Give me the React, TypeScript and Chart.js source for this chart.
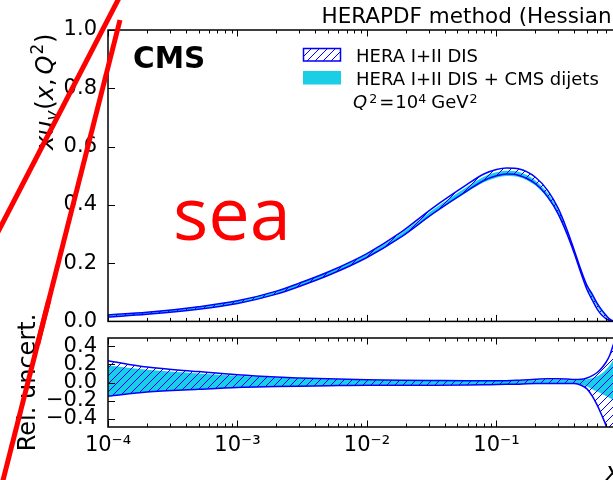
import React, { useEffect, useRef } from 'react';
import { Chart, registerables } from 'chart.js';

Chart.register(...registerables);
Chart.defaults.font.family = '"DejaVu Sans"';

// ---------------- data ----------------
const xValues = [1e-4, 2e-4, 5e-4, 1e-3, 2e-3, 3e-3, 5e-3, 0.01, 0.018, 0.0325, 0.059, 0.08, 0.1, 0.12, 0.15, 0.2, 0.25, 0.3, 0.35, 0.4, 0.45, 0.5, 0.55, 0.6, 0.65, 0.7, 0.75, 0.8, 0.85, 0.9];

const heraCentral = [0.018, 0.027, 0.045, 0.065, 0.098, 0.125, 0.163, 0.226, 0.296, 0.382, 0.46, 0.496, 0.511, 0.516, 0.51, 0.478, 0.43, 0.372, 0.304, 0.235, 0.17, 0.118, 0.086, 0.056, 0.034, 0.018, 0.006, 0.001, 0.0002, 0.0001];
const cmsCentral = [0.018, 0.027, 0.045, 0.065, 0.098, 0.125, 0.163, 0.225, 0.293, 0.377, 0.453, 0.488, 0.503, 0.508, 0.503, 0.472, 0.426, 0.37, 0.303, 0.235, 0.171, 0.119, 0.087, 0.057, 0.035, 0.018, 0.006, 0.001, 0.0002, 0.0001];

const heraRelUp = [0.24, 0.17, 0.12, 0.085, 0.06, 0.05, 0.04, 0.03, 0.025, 0.022, 0.02, 0.02, 0.02, 0.02, 0.025, 0.035, 0.042, 0.042, 0.038, 0.033, 0.035, 0.05, 0.075, 0.11, 0.16, 0.22, 0.3, 0.42, 0.55, 0.7];
const heraRelDown = [-0.15, -0.105, -0.075, -0.055, -0.045, -0.04, -0.035, -0.03, -0.03, -0.03, -0.028, -0.025, -0.022, -0.02, -0.018, -0.012, -0.01, -0.01, -0.01, -0.012, -0.03, -0.07, -0.15, -0.25, -0.36, -0.47, -0.6, -0.75, -0.9, -1.0];
const cmsRelUp = [0.19, 0.14, 0.1, 0.075, 0.055, 0.045, 0.035, 0.025, 0.02, 0.018, 0.018, 0.018, 0.018, 0.018, 0.02, 0.025, 0.03, 0.03, 0.028, 0.025, 0.028, 0.035, 0.05, 0.07, 0.1, 0.14, 0.19, 0.25, 0.32, 0.4];
const cmsRelDown = [-0.15, -0.105, -0.075, -0.055, -0.045, -0.04, -0.033, -0.025, -0.025, -0.022, -0.022, -0.022, -0.02, -0.018, -0.016, -0.012, -0.01, -0.01, -0.01, -0.012, -0.025, -0.045, -0.075, -0.1, -0.125, -0.15, -0.17, -0.2, -0.23, -0.26];

const xDecades = [1e-4, 1e-3, 1e-2, 1e-1];
const xDecadeLabels = ['10\u207B\u2074', '10\u207B\u00B3', '10\u207B\u00B2', '10\u207B\u00B9'];
const xMultipliers = [1, 2, 3, 4, 5, 6, 7, 8, 9];
const yTopTicks = [0, 0.2, 0.4, 0.6, 0.8, 1.0];
const yTopTickLabels = ['0.0', '0.2', '0.4', '0.6', '0.8', '1.0'];
const yBotTicks = [-0.4, -0.2, 0, 0.2, 0.4];
const yBotTickLabels = ['\u22120.4', '\u22120.2', '0.0', '0.2', '0.4'];

const seriesLabels = ['HERA I+II DIS', 'HERA I+II DIS + CMS dijets'];
const titleText = 'HERAPDF method (Hessian)';

// ---------------- style ----------------
const BLUE = 'rgb(0,0,255)';
const CYAN = 'rgb(26,206,230)';
const FONT = '"DejaVu Sans"';
const X_MIN = 1e-4;
const X_MAX = 0.9;

const xTickValues = xDecades.flatMap((d) => xMultipliers.map((m) => m * d)).filter((v) => v <= X_MAX * 1.0001);
const isDecade = (v: number) => xDecades.some((d) => Math.abs(v - d) / d < 1e-6);

function makeHatch(): CanvasPattern {
  const s = 8;
  const c = document.createElement('canvas');
  c.width = s;
  c.height = s;
  const g = c.getContext('2d')!;
  g.strokeStyle = BLUE;
  g.lineWidth = 1;
  g.beginPath();
  g.moveTo(-1, s + 1);
  g.lineTo(s + 1, -1);
  g.moveTo(-1, 1);
  g.lineTo(1, -1);
  g.moveTo(s - 1, s + 1);
  g.lineTo(s + 1, s - 1);
  g.stroke();
  return g.createPattern(c, 'repeat')!;
}

type Seg = { t: string; i?: boolean; s?: number; dy?: number; dx?: number };
function drawRich(ctx: CanvasRenderingContext2D, segs: Seg[], x: number, y: number, size: number) {
  let cx = x;
  ctx.textAlign = 'left';
  ctx.textBaseline = 'alphabetic';
  for (const g of segs) {
    const sz = size * (g.s ?? 1);
    ctx.font = `${g.i ? 'italic ' : ''}${sz}px ${FONT}`;
    cx += g.dx ?? 0;
    ctx.fillText(g.t, cx, y + (g.dy ?? 0) * size);
    cx += ctx.measureText(g.t).width;
  }
}

// annotation overlay (page coordinates)
const redStrokes = [
  [121.1, -6, -11.4, 250],
  [120, 20, -2, 500],
];
function drawRed(ctx: CanvasRenderingContext2D, offsetY: number) {
  ctx.save();
  ctx.strokeStyle = '#ff0000';
  ctx.lineWidth = 5;
  ctx.lineCap = 'butt';
  for (const [x1, y1, x2, y2] of redStrokes) {
    ctx.beginPath();
    ctx.moveTo(x1, y1 - offsetY);
    ctx.lineTo(x2, y2 - offsetY);
    ctx.stroke();
  }
  ctx.restore();
}

const framePlugin = {
  id: 'frame',
  afterDatasetsDraw(chart: any) {
    const { ctx, chartArea: a } = chart;
    const xs = chart.scales.x;
    const ys = chart.scales.y;
    ctx.save();
    ctx.strokeStyle = '#000';
    ctx.lineWidth = 1;
    ctx.beginPath();
    for (const t of xs.ticks) {
      const px = Math.round(xs.getPixelForValue(t.value)) + 0.5;
      if (px < a.left || px > a.right) continue;
      const len = isDecade(t.value) ? 6.5 : 3.5;
      ctx.moveTo(px, a.bottom);
      ctx.lineTo(px, a.bottom - len);
      ctx.moveTo(px, a.top);
      ctx.lineTo(px, a.top + len);
    }
    for (const t of ys.ticks) {
      const py = Math.round(ys.getPixelForValue(t.value)) + 0.5;
      ctx.moveTo(a.left, py);
      ctx.lineTo(a.left + 7, py);
      ctx.moveTo(a.right, py);
      ctx.lineTo(a.right - 7, py);
    }
    ctx.stroke();
    ctx.lineWidth = 1.5;
    ctx.strokeRect(a.left, a.top, a.right - a.left, a.bottom - a.top);
    ctx.restore();
  },
};

function makeDecorTop(hatch: CanvasPattern) {
  return {
    id: 'decorTop',
    afterDraw(chart: any) {
      const ctx: CanvasRenderingContext2D = chart.ctx;
      ctx.save();
      ctx.fillStyle = '#000';
      // CMS
      ctx.font = `bold 29.5px ${FONT}`;
      ctx.textBaseline = 'alphabetic';
      ctx.textAlign = 'left';
      ctx.fillText('CMS', 133, 68);
      // sea
      ctx.fillStyle = '#ff0000';
      ctx.font = '74px "Open Sans"';
      ctx.fillText('sea', 173, 240);
      // legend
      ctx.fillStyle = hatch;
      ctx.fillRect(303.5, 48.5, 37, 12.5);
      ctx.strokeStyle = BLUE;
      ctx.lineWidth = 1.5;
      ctx.strokeRect(303.5, 48.5, 37, 12.5);
      ctx.fillStyle = CYAN;
      ctx.fillRect(303, 71, 38, 13.5);
      ctx.fillStyle = '#000';
      ctx.font = `18px ${FONT}`;
      ctx.fillText(seriesLabels[0], 356, 61.5);
      ctx.fillText(seriesLabels[1], 356, 84.5);
      drawRich(ctx, [
        { t: 'Q', i: true },
        { t: '2', s: 0.7, dy: -0.3, dx: 2 },
        { t: '=', dx: 2 },
        { t: '10', dx: 1 },
        { t: '4', s: 0.7, dy: -0.3 },
        { t: 'GeV', dx: 5 },
        { t: '2', s: 0.7, dy: -0.3, dx: 1 },
      ], 353, 108, 18);
      // y axis title
      ctx.save();
      ctx.translate(53, 150);
      ctx.rotate(-Math.PI / 2);
      drawRich(ctx, [
        { t: 'x', i: true },
        { t: 'u', i: true },
        { t: 'v', i: true, s: 0.7, dy: 0.22 },
        { t: '(', dx: 1 },
        { t: 'x', i: true },
        { t: ',' },
        { t: 'Q', i: true, dx: 4 },
        { t: '2', s: 0.7, dy: -0.4, dx: 1 },
        { t: ')', dx: 1 },
      ], 0, 0, 24);
      ctx.restore();
      ctx.restore();
      drawRed(ctx, 0);
    },
  };
}

const decorBottom = {
  id: 'decorBottom',
  afterDraw(chart: any) {
    const ctx: CanvasRenderingContext2D = chart.ctx;
    ctx.save();
    ctx.fillStyle = '#000';
    ctx.font = `italic 24px ${FONT}`;
    ctx.textAlign = 'right';
    ctx.textBaseline = 'alphabetic';
    ctx.fillText('x', chart.chartArea.right, 179.5);
    ctx.restore();
    drawRed(ctx, 300);
  },
};

const pts = (ys: number[]) => xValues.map((x, i) => ({ x, y: ys[i] }));

function bandDatasets(lower: number[], upper: number[], hatch: CanvasPattern) {
  return [];
}

function lineDs(label: string, data: any[], color: string, fill: any, bg: any) {
  return {
    label,
    data,
    borderColor: color,
    borderWidth: 1.5,
    pointRadius: 0,
    fill,
    backgroundColor: bg,
    cubicInterpolationMode: 'monotone',
  };
}

function xScale(showLabels: boolean, height: number) {
  return {
    type: 'logarithmic',
    min: X_MIN,
    max: X_MAX,
    afterBuildTicks: (s: any) => {
      s.ticks = xTickValues.map((v) => ({ value: v }));
    },
    ticks: {
      display: showLabels,
      autoSkip: false,
      maxRotation: 0,
      minRotation: 0,
      color: '#000',
      padding: 6,
      font: { size: 21 },
      callback: (v: number) => {
        const i = xDecades.findIndex((d) => Math.abs(v - d) / d < 1e-6);
        return i >= 0 ? xDecadeLabels[i] : '';
      },
    },
    grid: { display: false, drawTicks: false },
    border: { display: false },
    afterFit: (s: any) => {
      s.height = height;
    },
  };
}

function yScale(min: number, max: number, ticks: number[], labels: string[], title?: any) {
  return {
    type: 'linear',
    min,
    max,
    afterBuildTicks: (s: any) => {
      s.ticks = ticks.map((v) => ({ value: v }));
    },
    ticks: {
      autoSkip: false,
      color: '#000',
      padding: 11,
      font: { size: 21 },
      callback: (v: number) => {
        const i = ticks.findIndex((t) => Math.abs(t - v) < 1e-6);
        return i >= 0 ? labels[i] : '';
      },
    },
    grid: { display: false, drawTicks: false },
    border: { display: false },
    title: title ?? { display: false },
    afterFit: (s: any) => {
      s.width = 108;
    },
  };
}

export default function App() {
  const topRef = useRef<HTMLCanvasElement>(null);
  const botRef = useRef<HTMLCanvasElement>(null);

  useEffect(() => {
    const hatch = makeHatch();
    const heraLo = heraCentral.map((c, i) => c * (1 + heraRelDown[i]));
    const heraHi = heraCentral.map((c, i) => c * (1 + heraRelUp[i]));
    const cmsLo = cmsCentral.map((c, i) => c * (1 + cmsRelDown[i]));
    const cmsHi = cmsCentral.map((c, i) => c * (1 + cmsRelUp[i]));

    const top = new Chart(topRef.current!, {
      type: 'line',
      data: {
        datasets: [
          lineDs(seriesLabels[0] + ' low', pts(heraLo), BLUE, false, 'transparent'),
          lineDs(seriesLabels[0], pts(heraHi), BLUE, '-1', hatch),
          lineDs(seriesLabels[1] + ' low', pts(cmsLo), 'rgba(0,0,0,0)', false, 'transparent'),
          lineDs(seriesLabels[1], pts(cmsHi), 'rgba(0,0,0,0)', '-1', CYAN),
        ] as any,
      },
      options: {
        responsive: false,
        animation: false,
        events: [],
        layout: { padding: { left: 0, right: 20, top: 0, bottom: 0 } },
        plugins: {
          legend: { display: false },
          tooltip: { enabled: false },
          title: {
            display: true,
            text: titleText,
            align: 'end',
            color: '#000',
            font: { size: 21.5, weight: 'normal', lineHeight: 1.163 },
            padding: { top: 5, bottom: 0 },
          },
        },
        scales: {
          x: xScale(false, 23),
          y: yScale(0, 1, yTopTicks, yTopTickLabels),
        },
      } as any,
      plugins: [framePlugin, makeDecorTop(hatch)],
    });

    const bot = new Chart(botRef.current!, {
      type: 'line',
      data: {
        datasets: [
          lineDs(seriesLabels[0] + ' low', pts(heraRelDown), BLUE, false, 'transparent'),
          lineDs(seriesLabels[0], pts(heraRelUp), BLUE, '-1', hatch),
          lineDs(seriesLabels[1] + ' low', pts(cmsRelDown), 'rgba(0,0,0,0)', false, 'transparent'),
          lineDs(seriesLabels[1], pts(cmsRelUp), 'rgba(0,0,0,0)', '-1', CYAN),
        ] as any,
      },
      options: {
        responsive: false,
        animation: false,
        events: [],
        layout: { padding: { left: 0, right: 20, top: 38, bottom: 0 } },
        plugins: {
          legend: { display: false },
          tooltip: { enabled: false },
          title: { display: false },
        },
        scales: {
          x: xScale(true, 53),
          y: yScale(-0.49, 0.49, yBotTicks, yBotTickLabels, {
            display: true,
            text: 'Rel. uncert.',
            color: '#000',
            font: { size: 24 },
            padding: { top: 14.3, bottom: 0 },
          }),
        },
      } as any,
      plugins: [framePlugin, decorBottom],
    });

    return () => {
      top.destroy();
      bot.destroy();
    };
  }, []);

  return (
    <div style={{ position: 'fixed', left: 0, top: 0, width: 613, height: 480, overflow: 'hidden', background: '#fff' }}>
      <canvas ref={topRef} width={640} height={345} style={{ position: 'absolute', left: 0, top: 0, width: 640, height: 345 }} />
      <canvas ref={botRef} width={640} height={180} style={{ position: 'absolute', left: 0, top: 300, width: 640, height: 180 }} />
    </div>
  );
}
